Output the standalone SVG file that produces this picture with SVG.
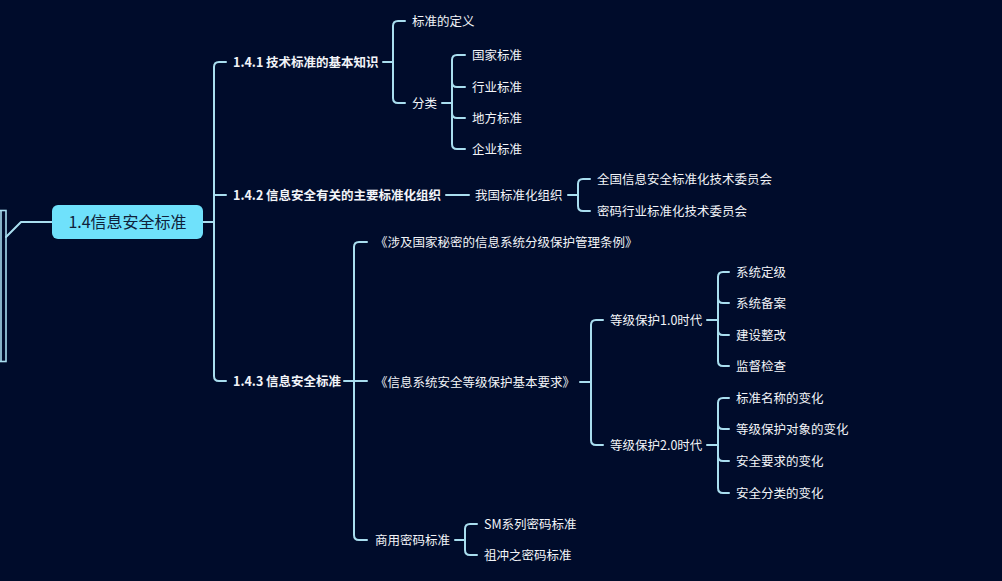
<svg xmlns="http://www.w3.org/2000/svg" width="1002" height="581" viewBox="0 0 1002 581">
<style>
.c{fill:none;stroke:#a9deef;stroke-width:2;stroke-linecap:round;stroke-linejoin:round}
text{font-family:"Noto Sans CJK SC","Noto Sans",sans-serif;fill:#f2f4f8;font-size:12.5px}
.b{font-weight:bold}
.r{font-size:16px;fill:#10213a}
</style>
<rect width="1002" height="581" fill="#000c2b"/>
<g id="connectors">
<path class="c" d="M6,237 L21,222 L52,222"/>
<path class="c" d="M203,222 L214,222"/>
<path class="c" d="M226,62 L219,62 Q214,62 214,67 L214,376 Q214,381 219,381 L226,381 M214,195 L226,195"/>
<path class="c" d="M383,62 L393,62 M405,21 L398,21 Q393,21 393,26 L393,98 Q393,103 398,103 L405,103"/>
<path class="c" d="M442,103 L452,103 M465,55 L457,55 Q452,55 452,60 L452,144 Q452,149 457,149 L465,149 M452,82 Q452,87 457,87 L465,87 M452,113 Q452,118 457,118 L465,118"/>
<path class="c" d="M446,195 L469,195 M568,195 L578,195 M590,179 L583,179 Q578,179 578,184 L578,206 Q578,211 583,211 L590,211"/>
<path class="c" d="M344,381 L367,381 M367,242 L359,242 Q354,242 354,247 L354,535 Q354,540 359,540 L367,540"/>
<path class="c" d="M580,382 L591,382 M603,320 L596,320 Q591,320 591,325 L591,440 Q591,445 596,445 L603,445"/>
<path class="c" d="M707,320 L718,320 M729,272 L723,272 Q718,272 718,277 L718,361 Q718,366 723,366 L729,366 M718,298 Q718,303 723,303 L729,303 M718,330 Q718,335 723,335 L729,335"/>
<path class="c" d="M707,445 L718,445 M729,398 L723,398 Q718,398 718,403 L718,488 Q718,493 723,493 L729,493 M718,424 Q718,429 723,429 L729,429 M718,456 Q718,461 723,461 L729,461"/>
<path class="c" d="M455,540 L465,540 M477,524 L470,524 Q465,524 465,529 L465,550 Q465,555 470,555 L477,555"/>
</g>
<g id="left-node">
<rect x="-20" y="210.5" width="26" height="151" fill="none" stroke="#a9deef" stroke-width="1.6"/>
<line x1="1" y1="210.5" x2="1" y2="361.5" stroke="#a9deef" stroke-width="1.6"/>
</g>
<g id="root">
<rect x="52" y="205" width="151" height="34" rx="6" fill="#6fe1fb"/>
<text class="r" x="127.5" y="227.5" text-anchor="middle">1.4信息安全标准</text>
</g>
<g id="n141"><text class="b" x="233" y="66.5">1.4.1 技术标准的基本知识</text></g>
<g id="n-def"><text x="412" y="25.5">标准的定义</text></g>
<g id="n-cls"><text x="412" y="107.5">分类</text></g>
<g id="n-gj"><text x="472" y="59.5">国家标准</text></g>
<g id="n-hy"><text x="472" y="91.5">行业标准</text></g>
<g id="n-df"><text x="472" y="122.5">地方标准</text></g>
<g id="n-qy"><text x="472" y="153.5">企业标准</text></g>
<g id="n142"><text class="b" x="233" y="199.5">1.4.2 信息安全有关的主要标准化组织</text></g>
<g id="n-wg"><text x="475" y="199.5">我国标准化组织</text></g>
<g id="n-qg"><text x="597" y="183.5">全国信息安全标准化技术委员会</text></g>
<g id="n-mm"><text x="597" y="215.5">密码行业标准化技术委员会</text></g>
<g id="n143"><text class="b" x="233" y="385.5">1.4.3 信息安全标准</text></g>
<g id="n-sj"><text x="375" y="246.5">《涉及国家秘密的信息系统分级保护管理条例》</text></g>
<g id="n-xx"><text x="375" y="386.5">《信息系统安全等级保护基本要求》</text></g>
<g id="n-sy"><text x="375" y="544.5">商用密码标准</text></g>
<g id="n-10"><text x="610" y="324.5">等级保护1.0时代</text></g>
<g id="n-20"><text x="610" y="449.5">等级保护2.0时代</text></g>
<g id="n-a1"><text x="736" y="276.5">系统定级</text></g>
<g id="n-a2"><text x="736" y="307.5">系统备案</text></g>
<g id="n-a3"><text x="736" y="339.5">建设整改</text></g>
<g id="n-a4"><text x="736" y="370.5">监督检查</text></g>
<g id="n-b1"><text x="736" y="402.5">标准名称的变化</text></g>
<g id="n-b2"><text x="736" y="433.5">等级保护对象的变化</text></g>
<g id="n-b3"><text x="736" y="465.5">安全要求的变化</text></g>
<g id="n-b4"><text x="736" y="497.5">安全分类的变化</text></g>
<g id="n-sm"><text x="484" y="528.5">SM系列密码标准</text></g>
<g id="n-zc"><text x="484" y="559.5">祖冲之密码标准</text></g>
</svg>
